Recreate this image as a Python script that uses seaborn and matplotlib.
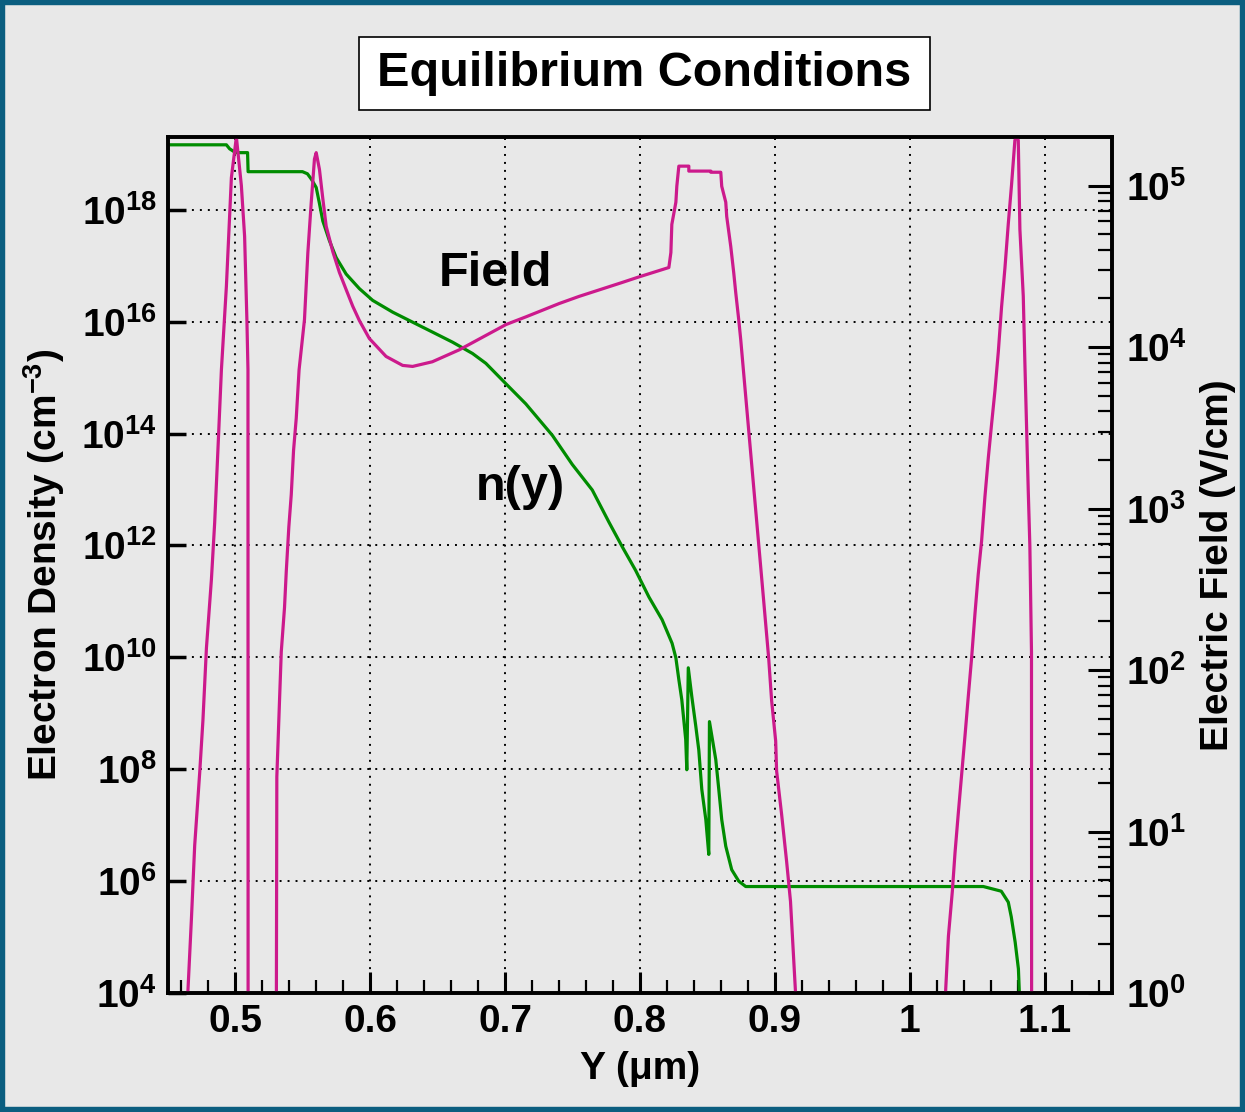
import numpy as np
import pandas as pd
import matplotlib
matplotlib.use("Agg")
import matplotlib.pyplot as plt
import seaborn as sns
from matplotlib.ticker import FixedLocator, MultipleLocator, NullLocator, LogLocator, NullFormatter
from matplotlib.patches import Rectangle

# ---------------- data ----------------
n_pos = [0.4500, 0.4933, 0.4957, 0.5001, 0.5090, 0.5094, 0.5497, 0.5534, 0.5564, 0.5599,
         0.5623, 0.5648, 0.5697, 0.5747, 0.5821, 0.5919, 0.6018, 0.6166, 0.6314, 0.6462,
         0.6610, 0.6758, 0.6857, 0.7005, 0.7153, 0.7350, 0.7498, 0.7646, 0.7770, 0.7868,
         0.7967, 0.8066, 0.8164, 0.8238, 0.8266, 0.8288, 0.8310, 0.8339,
         0.8347, 0.8358, 0.8384, 0.8414, 0.8436, 0.8458, 0.8488, 0.8510, 0.8515, 0.8562,
         0.8584, 0.8606, 0.8636, 0.8680, 0.8732, 0.8784, 1.0546, 1.0679, 1.0731, 1.0753,
         1.0782, 1.0806, 1.0813, 1.0820]
n_val = [1.45e19, 1.45e19, 1.23e19, 1.05e19, 1.05e19, 4.8e18, 4.8e18, 4.4e18, 3.5e18, 2.5e18,
         1.3e18, 6.3e17, 2.8e17, 1.4e17, 7.1e16, 3.9e16, 2.4e16, 1.48e16, 9.8e15, 6.5e15,
         4.3e15, 2.7e15, 1.8e15, 7.8e14, 3.4e14, 9.3e13, 2.8e13, 9.8e12, 2.6e12, 9.5e11,
         3.6e11, 1.2e11, 4.7e10, 1.78e10, 9.8e9, 4.0e9, 1.74e9, 3.4e8,
         9.8e7, 6.5e9, 2.0e9, 5.8e8, 2.2e8, 4.4e7, 1.26e7, 3.0e6, 7.1e8, 1.48e8,
         4.4e7, 1.26e7, 4.2e6, 1.6e6, 1.0e6, 8.0e5, 8.0e5, 6.6e5, 4.2e5, 2.3e5,
         8.1e4, 2.7e4, 1.0e4, 3.0e3]

e_pos = [0.4642, 0.4648, 0.4674, 0.4698, 0.4735, 0.4759, 0.4785, 0.4822, 0.4846, 0.4870,
         0.4896, 0.4933, 0.4970, 0.5007, 0.5044, 0.5068, 0.5085, 0.5093, 0.5094, 0.5303,
         0.5307, 0.5327, 0.5340, 0.5364, 0.5377, 0.5396, 0.5414, 0.5431, 0.5451, 0.5472,
         0.5512, 0.5537, 0.5562, 0.5586, 0.5599, 0.5623, 0.5648, 0.5673, 0.5722, 0.5771,
         0.5821, 0.5870, 0.5919, 0.5993, 0.6117, 0.6240, 0.6314, 0.6460, 0.6660, 0.7007,
         0.7155, 0.7400, 0.7548, 0.7866, 0.7992, 0.8214, 0.8229, 0.8236, 0.8266, 0.8273,
         0.8288, 0.8362, 0.8362, 0.8525, 0.8525, 0.8599, 0.8606, 0.8636, 0.8643, 0.8673,
         0.8695, 0.8710, 0.8732, 0.8747, 0.8917, 0.8954, 0.8976, 0.9006, 0.9013, 0.9050,
         0.9087, 0.9116, 0.9154, 0.9160, 1.0262, 1.0267, 1.0287, 1.0316, 1.0336, 1.0360,
         1.0385, 1.0410, 1.0434, 1.0459, 1.0484, 1.0508, 1.0533, 1.0558, 1.0583, 1.0607,
         1.0632, 1.0657, 1.0681, 1.0706, 1.0731, 1.0755, 1.0780, 1.0792, 1.0805, 1.0817,
         1.0842, 1.0854, 1.0866, 1.0879, 1.0891, 1.0903, 1.0904]
e_val = [0.85, 1.04, 2.92, 8.22, 23.1, 48.8, 137, 365, 815, 2290,
         7230, 2.38e4, 1.12e5, 2.0e5, 1.0e5, 4.86e4, 1.48e4, 7230, 0.5, 0.5,
         21.8, 64.9, 130, 244, 408, 769, 1220, 2290, 3630, 7230,
         1.48e4, 3.84e4, 7.83e4, 1.46e5, 1.60e5, 1.26e5, 8.3e4, 5.6e4, 3.9e4, 2.9e4,
         2.27e4, 1.79e4, 1.46e4, 1.13e4, 8750, 7700, 7590, 8110, 9620, 1.38e4,
         1.54e4, 1.86e4, 2.06e4, 2.51e4, 2.72e4, 3.11e4, 3.85e4, 5.75e4, 7.89e4, 9.91e4,
         1.32e5, 1.32e5, 1.23e5, 1.23e5, 1.21e5, 1.21e5, 9.91e4, 7.89e4, 6.44e4, 4.20e4,
         2.89e4, 2.17e4, 1.48e4, 1.11e4, 269, 119, 64.6, 36.4, 23.7, 12.8,
         6.55, 3.69, 0.98, 0.8, 0.8, 1.06, 2.25, 4.26, 7.40, 12.9,
         22.5, 39.2, 68.2, 119, 224, 391, 630, 1190, 2070, 3330,
         5370, 9350, 1.77e4, 3.08e4, 5.81e4, 1.01e5, 1.91e5, 2.0e5, 1.91e5, 5.36e4,
         2.07e4, 8000, 3340, 1290, 583, 129, 0.5]

x_ticks = [0.5, 0.6, 0.7, 0.8, 0.9, 1.0, 1.1]
x_ticklabels = ["0.5", "0.6", "0.7", "0.8", "0.9", "1", "1.1"]
n_ticks = [1e4, 1e6, 1e8, 1e10, 1e12, 1e14, 1e16, 1e18]
n_ticklabels = [r"$10^{4}$", r"$10^{6}$", r"$10^{8}$", r"$10^{10}$", r"$10^{12}$",
                r"$10^{14}$", r"$10^{16}$", r"$10^{18}$"]
e_ticks = [1e0, 1e1, 1e2, 1e3, 1e4, 1e5]
e_ticklabels = [r"$10^{0}$", r"$10^{1}$", r"$10^{2}$", r"$10^{3}$", r"$10^{4}$", r"$10^{5}$"]

title = "Equilibrium Conditions"
xlabel = "Y (μm)"
ylabel_left = r"Electron Density (cm$^{-3}$)"
ylabel_right = "Electric Field (V/cm)"

# ---------------- style ----------------
BG = "#e8e8e8"
GREEN = "#008c00"
MAGENTA = "#cc1a8c"
sns.set_style("ticks", rc={"axes.facecolor": BG, "figure.facecolor": BG})
plt.rcParams.update({
    "font.family": ["Liberation Sans", "DejaVu Sans"],
    "font.weight": "bold",
    "text.color": "black",
    "axes.labelcolor": "black",
    "xtick.color": "black",
    "ytick.color": "black",
    "mathtext.fontset": "custom",
    "mathtext.rm": "Liberation Sans:bold",
    "mathtext.it": "Liberation Sans:bold",
    "mathtext.bf": "Liberation Sans:bold",
    "mathtext.sf": "Liberation Sans:bold",
    "mathtext.default": "rm",
})

df_n = pd.DataFrame({"y": n_pos, "n": n_val})
df_e = pd.DataFrame({"y": e_pos, "E": e_val})

fig = plt.figure(figsize=(12.45, 11.12), dpi=100, facecolor=BG)
ax = fig.add_axes([168 / 1245, 1 - 993 / 1112, 944 / 1245, 856 / 1112])
ax.set_facecolor(BG)

sns.lineplot(data=df_n, x="y", y="n", ax=ax, color=GREEN, lw=2.3,
             sort=False, estimator=None)
ax2 = ax.twinx()
sns.lineplot(data=df_e, x="y", y="E", ax=ax2, color=MAGENTA, lw=2.3,
             sort=False, estimator=None)

ax.set_yscale("log")
ax2.set_yscale("log")
ax.set_xlim(0.45, 1.15)
ax.set_ylim(1e4, 2e19)
ax2.set_ylim(1, 2e5)

# ticks
ax.xaxis.set_major_locator(FixedLocator(x_ticks))
ax.set_xticklabels(x_ticklabels)
ax.xaxis.set_minor_locator(MultipleLocator(0.02))
ax.yaxis.set_major_locator(FixedLocator(n_ticks))
ax.set_yticklabels(n_ticklabels)
ax.yaxis.set_minor_locator(NullLocator())
ax2.yaxis.set_major_locator(FixedLocator(e_ticks))
ax2.set_yticklabels(e_ticklabels)
ax2.yaxis.set_minor_locator(LogLocator(base=10, subs=np.arange(2, 10)))
ax2.yaxis.set_minor_formatter(NullFormatter())

ax.tick_params(axis="x", which="major", direction="in", length=15, width=2.2,
               labelsize=28, pad=8, top=False, color="black", labelcolor="black")
ax.tick_params(axis="x", which="minor", direction="in", length=9.5, width=1.6, top=False)
ax.tick_params(axis="y", which="major", direction="in", length=13, width=2.5,
               labelsize=28, pad=8, right=False, labelcolor="black")
ax2.tick_params(axis="y", which="major", direction="in", length=17, width=2.2,
                labelsize=28, pad=10, labelcolor="black")
ax2.tick_params(axis="y", which="minor", direction="in", length=10, width=1.6)

for a in (ax, ax2):
    for s in a.spines.values():
        s.set_visible(True)
        s.set_linewidth(2.6)
        s.set_color("black")

ax.grid(True, which="major", axis="both", color="black",
        linestyle=(0, (1, 3.1)), linewidth=1.4)

ax.set_xlabel(xlabel, fontsize=28, fontweight="bold", labelpad=8, color="black")
ax.set_ylabel(ylabel_left, fontsize=28, fontweight="bold", labelpad=10, color="black")
ax2.set_ylabel(ylabel_right, fontsize=28, fontweight="bold", labelpad=10, color="black")

# annotations
ax.text(0.3464, 0.841, "Field", transform=ax.transAxes, ha="center", va="center",
        fontsize=35, fontweight="bold", color="black")
ax.text(0.3729, 0.590, "n(y)", transform=ax.transAxes, ha="center", va="center",
        fontsize=35, fontweight="bold", color="black")

# title box
fig.patches.append(Rectangle((359 / 1245, 1 - 110 / 1112), 571 / 1245, 73 / 1112,
                             transform=fig.transFigure, facecolor="white",
                             edgecolor="black", lw=1.2, zorder=1))
fig.text(644.5 / 1245, 1 - 74 / 1112, title, ha="center", va="center",
         fontsize=35, fontweight="bold", color="black", zorder=2)

# outer frame
fig.patches.append(Rectangle((0, 0), 1, 1, transform=fig.transFigure, fill=False,
                             edgecolor="#0b5e80", lw=7.5, zorder=5))

fig.savefig("out.png", dpi=100, facecolor=BG)
